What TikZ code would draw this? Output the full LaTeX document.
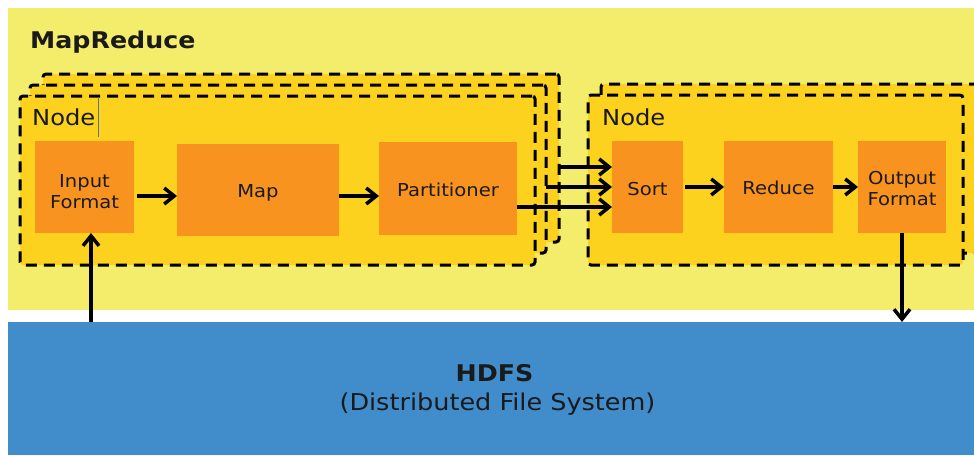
\documentclass[tikz,border=0pt]{standalone}
\usepackage{fontspec}
\setmainfont{DejaVu Sans}[FakeStretch=1.1]
\usetikzlibrary{arrows.meta}
\definecolor{mrbg}{HTML}{F4EC6B}
\definecolor{nodefill}{HTML}{FCD21F}
\definecolor{stagefill}{HTML}{F7931E}
\definecolor{hdfsblue}{HTML}{418DCB}
\definecolor{ink}{HTML}{1A1A1A}
\definecolor{caret}{HTML}{5F7290}
\begin{document}
\begin{tikzpicture}[x=1pt,y=-1pt,
  area/.style={fill=#1, draw=none, inner sep=0pt, outer sep=0pt},
  nodebox/.style={fill=nodefill, draw=black, line width=3pt,
    dash pattern=on 11pt off 7pt, rounded corners=3pt, inner sep=0pt, outer sep=0pt},
  stage/.style={fill=stagefill, draw=none, inner sep=0pt, outer sep=0pt},
  stagetext/.style={text=ink, font=\fontsize{17.8}{21}\selectfont, align=center},
  title/.style={text=ink, inner sep=0pt},
  flow/.style={draw=black, line width=4pt,
    -{Straight Barb[length=10pt,width=16pt,line width=3.5pt]}},
]
\useasboundingbox (0,0) rectangle (974,455);
\clip (0,0) rectangle (974,455);

% MapReduce area and HDFS layer
\node[area=mrbg, minimum width=966pt, minimum height=302pt] (mr) at (491,159) {};
\node[area=hdfsblue, minimum width=966pt, minimum height=133pt] (hdfs) at (491,388.5) {};
\node[title, anchor=base west, font=\fontsize{23}{27}\selectfont\bfseries] (mrtitle) at (30,48) {MapReduce};
\node[title, anchor=base, font=\fontsize{23}{27}\selectfont\bfseries] (hdfstitle) at (494.5,381) {HDFS};
\node[title, anchor=base, font=\fontsize{23.2}{27}\selectfont] (hdfssub) at (497.5,410) {(Distributed File System)};

% map-side node stack
\node[nodebox, minimum width=516pt, minimum height=168pt] (L3) at (301,158) {};
\node[nodebox, minimum width=516pt, minimum height=168pt] (L2) at (288,169) {};
\node[nodebox, minimum width=515pt, minimum height=169pt] (L1) at (277.5,180.5) {};
\node[title, anchor=base west, font=\fontsize{22}{26}\selectfont] (L1name) at (32,125) {Node};
\draw[caret, line width=0.8pt] (98,97) -- (98,137);

% reduce-side node stack
\node[nodebox, minimum width=400pt, minimum height=169pt] (R2) at (801,168.5) {};
\node[nodebox, minimum width=375pt, minimum height=170pt] (R1) at (775.5,180) {};
\node[title, anchor=base west, font=\fontsize{22}{26}\selectfont] (R1name) at (602,125) {Node};

% processing stages
\node[stage, minimum width=99pt, minimum height=92pt, label={[stagetext, yshift=-5pt]center:{Input\\Format}}] (inp) at (84.5,187) {};
\node[stage, minimum width=162pt, minimum height=92pt, label={[stagetext, anchor=base, yshift=-3pt]center:Map}] (map) at (258,190) {};
\node[stage, minimum width=138pt, minimum height=93pt, label={[stagetext, anchor=base, yshift=-1.5pt]center:Partitioner}] (part) at (448,188.5) {};
\node[stage, minimum width=71pt, minimum height=92pt, label={[stagetext, anchor=base, yshift=-2pt]center:Sort}] (sort) at (647.5,187) {};
\node[stage, minimum width=109pt, minimum height=92pt, label={[stagetext, anchor=base, yshift=-1pt]center:Reduce}] (red) at (778.5,187) {};
\node[stage, minimum width=88pt, minimum height=92pt, label={[stagetext, yshift=-2pt]center:{Output\\Format}}] (out) at (902,187) {};

% data flow
\draw[flow] ([xshift=6.5pt]inp.south |- hdfs.north) -- ([xshift=6.5pt]inp.south);
\draw[flow, shorten <=3pt] ([yshift=-9pt]inp.east) -- ([yshift=-9pt]inp.east -| map.west);
\draw[flow] ([yshift=-6pt]map.east) -- ([yshift=-6pt]map.east -| part.west);
\coordinate (in3) at ([yshift=20pt]sort.west);
\coordinate (in1) at ([yshift=-20pt]sort.west);
\draw[flow] (L3.east |- in3) -- (in3);
\draw[flow] (L2.east |- sort.west) -- (sort.west);
\draw[flow] (part.east |- in1) -- (in1);
\draw[flow, shorten <=2pt] (sort.east) -- (red.west);
\draw[flow] (red.east) -- (out.west);
\draw[flow] (out.south) -- (out.south |- hdfs.north);
\end{tikzpicture}
\end{document}
